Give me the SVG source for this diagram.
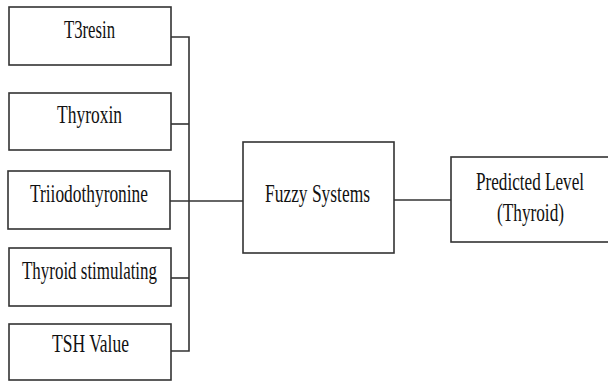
<svg xmlns="http://www.w3.org/2000/svg" width="608" height="381" viewBox="0 0 608 381">
<style>
.box{fill:#fff;stroke:#333;stroke-width:1.6}
.lbl{font-family:'Liberation Serif','DejaVu Serif','Times New Roman',serif;font-size:25px;fill:#111;text-anchor:middle}
.con{fill:none;stroke:#333;stroke-width:1.6}
</style>
<rect width="608" height="381" fill="#fff"/>
<g id="connectors">
<polyline class="con" points="171,37 189,37 189,351 171,351"/>
<line class="con" x1="171" y1="124" x2="189" y2="124"/>
<line class="con" x1="171" y1="278" x2="189" y2="278"/>
<line class="con" x1="170" y1="201" x2="243" y2="201"/>
<line class="con" x1="394" y1="200" x2="451" y2="200"/>
</g>
<g id="n1"><rect class="box" x="9" y="7" width="162" height="58"/><text class="lbl" x="89.5" y="38" textLength="51" lengthAdjust="spacingAndGlyphs">T3resin</text></g>
<g id="n2"><rect class="box" x="9" y="93" width="162" height="57"/><text class="lbl" x="89.5" y="123" textLength="65" lengthAdjust="spacingAndGlyphs">Thyroxin</text></g>
<g id="n3"><rect class="box" x="8" y="171" width="162" height="58"/><text class="lbl" x="89" y="202" textLength="118" lengthAdjust="spacingAndGlyphs">Triiodothyronine</text></g>
<g id="n4"><rect class="box" x="9" y="248" width="162" height="58"/><text class="lbl" x="89.5" y="279" textLength="135" lengthAdjust="spacingAndGlyphs">Thyroid stimulating</text></g>
<g id="n5"><rect class="box" x="9" y="324" width="162" height="56"/><text class="lbl" x="90.5" y="352" textLength="77" lengthAdjust="spacingAndGlyphs">TSH Value</text></g>
<g id="fuzzy"><rect class="box" x="243" y="142" width="151" height="111"/><text class="lbl" x="317.5" y="202" textLength="105" lengthAdjust="spacingAndGlyphs">Fuzzy Systems</text></g>
<g id="predicted"><rect class="box" x="451" y="157" width="158" height="85"/><text class="lbl" x="530" y="190" textLength="108" lengthAdjust="spacingAndGlyphs">Predicted Level</text><text class="lbl" x="530.5" y="221" textLength="67" lengthAdjust="spacingAndGlyphs">(Thyroid)</text></g>
</svg>
